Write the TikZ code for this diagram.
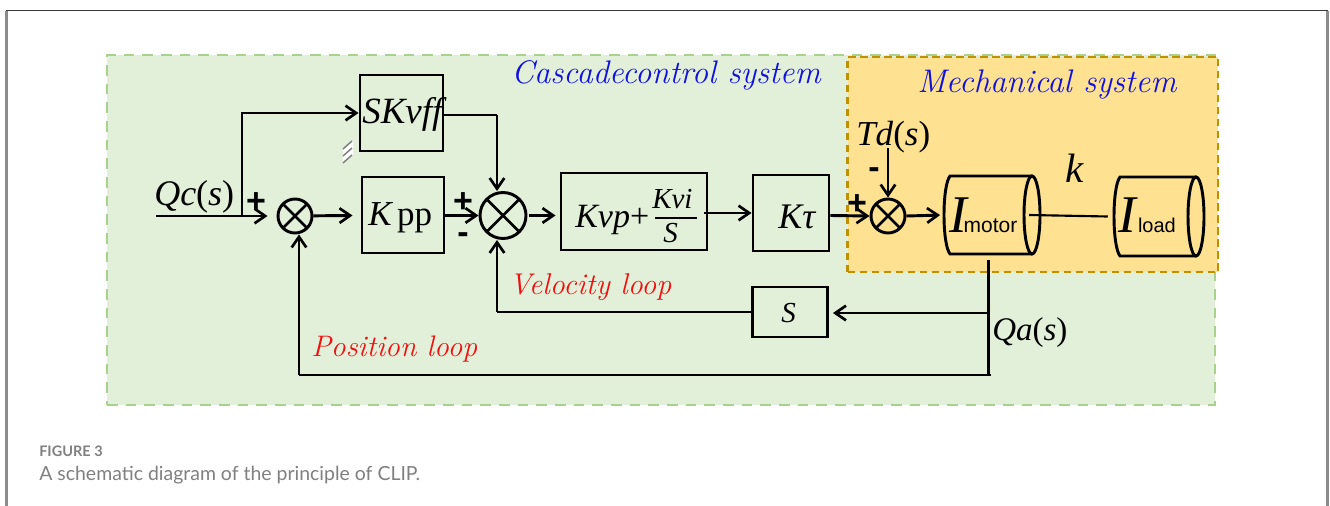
\documentclass[tikz,border=0pt]{standalone}
\usepackage{fontspec}
\setmainfont{Liberation Serif}
\setsansfont{Liberation Sans}
\newfontfamily\capfont{Lato}
\newfontfamily\lmfont{Latin Modern Roman}
\usetikzlibrary{arrows.meta}
\definecolor{grfill}{HTML}{E2F0D9}
\definecolor{grdash}{HTML}{A9D18E}
\definecolor{orfill}{HTML}{FEE291}
\definecolor{ordash}{HTML}{BF9000}
\definecolor{framegray}{HTML}{8C8C8C}
\definecolor{framedark}{HTML}{3A3A3A}
\definecolor{capgray}{HTML}{808080}
\definecolor{loopred}{HTML}{EE1111}
\definecolor{sysblue}{HTML}{1111DD}
\newcommand{\pxf}[1]{\fontsize{\dimexpr #1pt*3/4\relax}{\dimexpr #1pt*3/4\relax}\selectfont}
\tikzset{
  x=0.75pt,y=-0.75pt,
  wire/.style={line width=2.2pt,black,line join=miter},
  arr/.style={wire,-{Straight Barb[length=8pt,width=11pt,line width=2pt]}},
  blockbox/.style={draw=black,line width=2.2pt,inner sep=0pt,fill=none},
  sumnode/.style={circle,draw=black,line width=2.2pt,inner sep=0pt,
    path picture={\draw[line width=2pt]
      (path picture bounding box.north west)--(path picture bounding box.south east)
      (path picture bounding box.north east)--(path picture bounding box.south west);}},
  lbl/.style={inner sep=0pt,anchor=base west,text=black},
  sign/.style={inner sep=0pt,anchor=center,font=\sffamily\bfseries\pxf{34},text=black},
  cyl/.style={line width=2.2pt,draw=black},
  sysname/.style={inner sep=0pt,anchor=base west,text=sysblue,font=\lmfont\itshape},
  loopname/.style={inner sep=0pt,anchor=base west,text=loopred,font=\lmfont\itshape},
}
\begin{document}
\begin{tikzpicture}
\path[use as bounding box,fill=white] (0,0) rectangle (1330,506);
% outer frame
\draw[framegray,line width=1.7pt] (6.5,506) -- (6.5,11);
\draw[framegray,line width=1.7pt] (1327.5,11) -- (1327.5,506);
\draw[framedark,line width=1pt] (6,10.5) -- (1328,10.5);
% regions
\node[draw=grdash,fill=grfill,dash pattern=on 8pt off 6pt,line width=1.9pt,inner sep=0pt,
  minimum width=1108*.75pt,minimum height=350*.75pt] (cascade) at (661,230) {};
\node[draw=ordash,fill=orfill,dash pattern=on 5.5pt off 3.5pt,line width=1.9pt,inner sep=0pt,
  minimum width=370.5*.75pt,minimum height=215*.75pt] (mech) at (1032.75,164.5) {};
\node[sysname] (cname) at (511,84) {\pxf{32.6}Cascadecontrol system};
\node[sysname] (mname) at (917,93) {\pxf{32.7}Mechanical system};
\node[loopname] (vname) at (509,294) {\pxf{30}Velocity loop};
\node[loopname] (pname) at (311,356) {\pxf{29.7}Position loop};
% blocks
\node[blockbox,minimum width=83*.75pt,minimum height=76*.75pt] (skvff) at (401.5,113) {};
\node[blockbox,minimum width=82*.75pt,minimum height=76*.75pt] (kpp) at (403,215) {};
\node[blockbox,minimum width=146*.75pt,minimum height=77*.75pt] (kvp) at (634,211.5) {};
\node[blockbox,minimum width=76*.75pt,minimum height=76*.75pt] (ktau) at (791,213) {};
\node[blockbox,minimum width=75*.75pt,minimum height=50*.75pt] (sbox) at (790,312) {};
\node[sumnode,minimum size=34*.75pt] (suma) at (295,216) {};
\node[sumnode,minimum size=46*.75pt] (sumb) at (503,215.5) {};
\node[sumnode,minimum size=34*.75pt] (sumc) at (888,216) {};
% block texts
\node[lbl] (tskvff) at (362,124) {\pxf{37}\itshape SKvff};
\node[lbl] (tkpp) at (368,225) {\pxf{35}\textit{K}\kern3pt pp};
\node[lbl] (tkvp) at (575,227) {\pxf{34}\textit{Kvp}+};
\node[lbl] (tkvi) at (652,208) {\pxf{29}\itshape Kvi};
\node[lbl] (tkvis) at (663,242) {\pxf{29}\itshape S};
\draw[line width=1.1pt] (655,218) -- (697,218);
\node[lbl] (tktau) at (778,228) {\pxf{36}\itshape Kτ};
\node[lbl] (tsbox) at (781,322) {\pxf{29}\itshape S};
\node[lbl] (tqc) at (154,205) {\pxf{36}\textit{Qc}(\textit{s})};
\node[lbl] (tqa) at (992,340) {\pxf{33}\textit{Qa}(\textit{s})};
\node[lbl] (ttd) at (856,146) {\pxf{35}\textit{Td}(\textit{s})};
\node[lbl] (tk) at (1065,182) {\pxf{41}\itshape k};
% signs
\node[sign] (pa) at (256,203) {+};
\node[sign] (pb) at (463,203) {+};
\node[sign] (mb) at (463,238) {-};
\node[sign] (pc) at (857,205) {+};
\node[sign] (mc) at (874,173) {-};
% cylinders
\draw[cyl] (1032,176) -- (950,176) .. controls (942,186) and (942,244) .. (950,254) -- (1032,254);
\draw[cyl] (1032,215) ellipse [x radius=8,y radius=39];
\draw[cyl] (1196,177) -- (1120,177) .. controls (1112,187) and (1112,246) .. (1120,256) -- (1196,256);
\draw[cyl] (1196,216.5) ellipse [x radius=8,y radius=39.5];
\node[minimum width=94*.75pt,minimum height=78*.75pt,inner sep=0pt] (motor) at (990,215) {};
\node[minimum width=80*.75pt,minimum height=79*.75pt,inner sep=0pt] (load) at (1148,216.5) {};
\node[lbl] (tmotor) at (949,232) {\pxf{53}\textit{I}\kern-4pt\sffamily\pxf{21}motor};
\node[lbl] (tload) at (1118,232) {\pxf{53}\textit{I}\kern0pt\sffamily\pxf{20}load};
% connector anchors
\coordinate (qcin) at (156,216);
\coordinate (br) at (242,216);
\coordinate (vel) at (497,312);
\coordinate (sktop) at (497,115);
\coordinate (posb) at (299,375);
\coordinate (tap) at (988.5,260);
\coordinate (tapv) at (988.5,313);
\coordinate (tapb) at (988.5,375);
\coordinate (tdin) at (888,148);
\coordinate (lka) at (1029,215);
\coordinate (kvpout) at (704,213);
\coordinate (posend) at (991,375);
% connectors
\draw[arr,shorten >=6.75pt] (qcin) -- (suma);
\draw[arr] (br) |- (skvff.west);
\draw[arr,shorten >=6pt] (suma) -- (kpp);
\draw[arr] (kpp.east |- sumb) -- (sumb);
\draw[wire] (skvff.east |- sktop) -- (sktop);
\draw[arr] (sktop) -- (sktop |- sumb.north);
\draw[arr,shorten >=3pt] ([xshift=1.5pt]sumb.east) -- (kvp.west |- sumb);
\draw[arr] (kvpout) -- (ktau.west);
\draw[arr] (ktau.east |- sumb) -- (sumc.west);
\draw[arr] (tdin) -- (sumc.north);
\draw[arr,shorten >=2pt] (sumc.east) -- (motor.west);
\draw[wire,line width=1.6pt] (lka) -- (load.west);
\draw[wire] (tap) -- (tapb);
\draw[arr,shorten >=3pt] (tapv) -- (sbox.east |- tapv);
\draw[wire] (sbox.west) -- (vel);
\draw[arr] (vel) -- (vel |- sumb.south);
\draw[wire] (posend) -- (posb);
\draw[arr] (posb) -- (posb |- suma.south);
% stray hatch mark
\fill[white] (343,150) -- (353,141) -- (353,155) -- (343,164) -- cycle;
\foreach \d in {0,7,14}{\draw[gray,line width=1.1pt] (343,149+\d) -- (352,141+\d);}
% caption
\node[inner sep=0pt,anchor=base west,text=capgray,font=\capfont\bfseries\pxf{14.5}] (figlab) at (39,456) {FIGURE 3};
\node[inner sep=0pt,anchor=base west,text=capgray,font=\capfont\pxf{19.45}] (figcap) at (39,480) {A schematic diagram of the principle of CLIP.};
\end{tikzpicture}
\end{document}
